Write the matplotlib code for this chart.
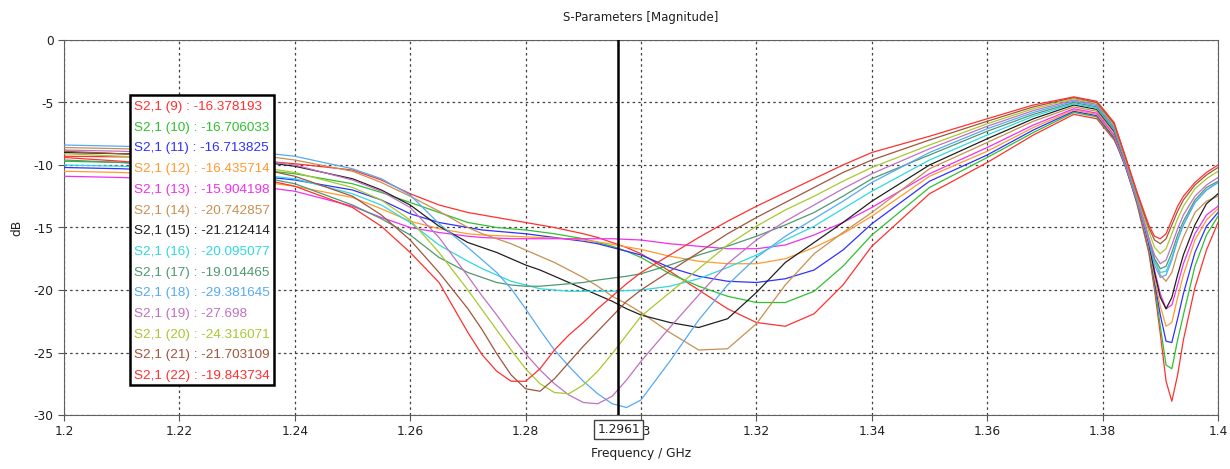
import matplotlib
matplotlib.use("Agg")
import matplotlib.pyplot as plt
from matplotlib.patches import Rectangle
from matplotlib.transforms import blended_transform_factory

# Frequenzraster (GHz), dichter in den Einbrüchen
freq = [1.200, 1.210, 1.220, 1.230, 1.240, 1.250, 1.255, 1.260, 1.265,
        1.270, 1.2725, 1.275, 1.2775, 1.280, 1.2825, 1.285, 1.2875, 1.290, 1.2925, 1.295, 1.2975, 1.300,
        1.305, 1.310, 1.315, 1.320, 1.325, 1.330, 1.335, 1.340,
        1.350, 1.360, 1.368, 1.375, 1.379, 1.382, 1.384, 1.386, 1.388,
        1.389, 1.390, 1.391, 1.392, 1.393, 1.394, 1.396, 1.398, 1.400]

# S2,1 in dB
s21_9 = [-9.3, -9.35, -9.4, -9.5, -9.9, -10.4, -11.2, -12.3, -13.2,
         -13.8, -14.0, -14.2, -14.4, -14.6, -14.8, -15.0, -15.25, -15.5, -15.8, -16.2, -16.6, -17.1,
         -18.5, -20.0, -21.5, -22.6, -22.9, -21.9, -19.6, -16.5,
         -12.3, -9.8, -7.6, -5.95, -6.3, -8.0, -9.9, -13.2, -17.0,
         -20.0, -23.5, -27.3, -28.9, -26.8, -24.0, -19.8, -16.8, -14.6]
s21_10 = [-9.7, -9.8, -10.0, -10.2, -10.7, -11.5, -12.2, -13.0, -13.8,
          -14.6, -14.8, -15.0, -15.1, -15.2, -15.35, -15.5, -15.7, -15.9, -16.2, -16.5, -16.9, -17.4,
          -18.7, -19.7, -20.5, -21.0, -21.0, -20.1, -18.1, -15.6,
          -11.8, -9.4, -7.4, -5.8, -6.15, -7.9, -10.2, -13.1, -16.8,
          -19.6, -22.9, -26.0, -26.3, -24.0, -22.0, -18.1, -15.6, -14.1]
s21_11 = [-10.2, -10.3, -10.5, -10.7, -11.2, -12.0, -12.8, -13.9, -14.6,
          -15.0, -15.2, -15.3, -15.4, -15.5, -15.65, -15.8, -15.95, -16.1, -16.3, -16.6, -16.9, -17.2,
          -18.2, -18.9, -19.3, -19.4, -19.1, -18.4, -16.8, -14.7,
          -11.3, -9.2, -7.2, -5.7, -6.05, -7.8, -10.2, -13.0, -16.6,
          -19.3, -22.0, -24.1, -24.2, -22.3, -20.3, -17.0, -14.9, -13.8]
s21_12 = [-10.5, -10.6, -10.8, -11.1, -11.7, -12.6, -13.5, -14.5, -15.1,
          -15.5, -15.6, -15.65, -15.7, -15.75, -15.8, -15.85, -15.9, -16.0, -16.15, -16.35, -16.55, -16.75,
          -17.3, -17.7, -17.9, -17.9, -17.5, -16.6, -15.5, -14.1,
          -10.9, -8.9, -7.0, -5.6, -5.95, -7.7, -10.1, -12.9, -16.5,
          -19.0, -21.3, -22.9, -22.6, -20.6, -18.8, -16.0, -14.4, -13.5]
s21_13 = [-10.9, -11.0, -11.2, -11.5, -12.1, -13.3, -14.2, -15.0, -15.4,
          -15.7, -15.8, -15.85, -15.9, -15.9, -15.9, -15.9, -15.9, -15.9, -15.9, -15.9, -15.95, -16.0,
          -16.3, -16.5, -16.7, -16.7, -16.4, -15.6, -14.6, -13.4,
          -10.7, -8.6, -6.8, -5.5, -5.85, -7.6, -10.0, -12.8, -16.3,
          -18.4, -20.3, -21.5, -21.2, -19.6, -17.9, -15.5, -14.0, -13.3]
s21_14 = [-8.6, -8.7, -8.8, -9.0, -9.6, -10.5, -11.4, -12.5, -13.7,
          -15.0, -15.5, -15.9, -16.3, -16.8, -17.3, -17.8, -18.4, -19.0, -19.7, -20.5, -21.1, -21.8,
          -23.4, -24.8, -24.7, -22.7, -19.6, -17.1, -15.4, -13.8,
          -10.3, -8.2, -6.5, -5.35, -5.7, -7.4, -9.9, -12.6, -15.9,
          -17.6, -18.8, -19.3, -18.6, -17.0, -15.8, -13.8, -12.9, -12.5]
s21_15 = [-9.0, -9.1, -9.2, -9.5, -10.1, -11.1, -12.0, -13.2, -14.9,
          -16.2, -16.6, -17.0, -17.5, -18.0, -18.4, -18.9, -19.4, -19.9, -20.4, -20.9, -21.5, -22.0,
          -22.6, -23.0, -22.3, -20.2, -17.8, -16.2, -14.6, -12.9,
          -10.0, -7.9, -6.3, -5.2, -5.55, -7.3, -9.8, -12.6, -16.2,
          -18.6, -20.6, -21.5, -20.6, -18.8, -17.2, -14.8, -13.1, -12.3]
s21_16 = [-10.0, -10.1, -10.3, -10.6, -11.1, -12.3, -13.2, -14.6, -16.4,
          -17.7, -18.3, -18.8, -19.3, -19.6, -19.9, -20.0, -20.1, -20.1, -20.1, -20.1, -20.05, -20.0,
          -19.7, -19.1, -18.2, -17.2, -16.0, -14.9, -13.5, -12.1,
          -9.6, -7.6, -6.1, -5.1, -5.45, -7.2, -9.8, -12.7, -16.0,
          -17.7, -18.6, -18.5, -17.4, -16.0, -14.8, -13.0, -12.0, -11.4]
s21_17 = [-9.6, -9.8, -10.1, -10.6, -11.5, -13.2, -14.3, -15.6, -17.4,
          -18.6, -19.0, -19.4, -19.6, -19.7, -19.7, -19.6, -19.5, -19.4, -19.2, -19.05, -18.9, -18.7,
          -18.0, -17.2, -16.5, -15.7, -14.8, -13.8, -12.5, -11.1,
          -9.2, -7.3, -5.95, -5.0, -5.35, -7.1, -9.7, -12.6, -15.9,
          -17.5, -18.3, -18.1, -17.0, -15.6, -14.5, -12.8, -11.8, -11.3]
s21_18 = [-8.4, -8.5, -8.6, -8.8, -9.3, -10.3, -11.1, -12.4, -14.7,
          -16.6, -17.6, -18.6, -19.9, -21.5, -23.2, -24.8, -26.1, -27.3, -28.3, -29.1, -29.4, -28.8,
          -25.7, -22.4, -19.6, -17.4, -15.7, -14.3, -12.9, -11.4,
          -9.0, -7.1, -5.8, -4.9, -5.25, -7.0, -9.7, -12.6, -16.1,
          -18.0, -19.0, -18.8, -17.6, -16.0, -14.8, -13.0, -12.0, -11.4]
s21_19 = [-8.8, -8.9, -9.1, -9.4, -10.0, -11.2, -12.1, -13.4, -15.8,
          -18.9, -20.5, -22.0, -23.6, -25.1, -26.4, -27.5, -28.4, -29.0, -29.1, -28.5, -27.2, -25.7,
          -23.0, -20.4, -17.9, -16.0, -14.5, -13.2, -11.9, -10.7,
          -8.7, -6.9, -5.65, -4.8, -5.15, -6.9, -9.6, -12.5, -15.8,
          -17.2, -17.9, -17.6, -16.4, -15.1, -14.0, -12.5, -11.6, -11.0]
s21_20 = [-9.1, -9.3, -9.5, -9.9, -10.6, -11.8, -12.8, -14.4, -17.0,
          -20.0, -21.6, -23.2, -24.8, -26.3, -27.5, -28.2, -28.3, -27.6, -26.5, -25.1, -23.6, -22.1,
          -20.2, -18.3, -16.4, -14.9, -13.6, -12.5, -11.3, -10.2,
          -8.4, -6.7, -5.5, -4.7, -5.05, -6.8, -9.5, -12.4, -15.3,
          -16.6, -17.1, -16.7, -15.5, -14.3, -13.3, -11.9, -11.1, -10.5]
s21_21 = [-8.9, -9.1, -9.4, -9.9, -10.9, -12.5, -14.0, -16.0, -18.6,
          -21.5, -23.2, -25.1, -26.8, -27.9, -28.1, -27.1, -25.8, -24.5, -23.3, -22.1, -20.9, -20.0,
          -18.5, -17.0, -15.5, -14.2, -13.0, -11.8, -10.6, -9.6,
          -8.0, -6.5, -5.35, -4.6, -5.0, -6.7, -9.4, -12.3, -15.0,
          -16.0, -16.3, -15.9, -14.8, -13.7, -12.8, -11.6, -10.8, -10.2]
s21_22 = [-9.4, -9.7, -10.1, -10.7, -11.7, -13.4, -14.9, -17.0, -19.4,
          -23.4, -25.2, -26.5, -27.3, -27.3, -26.3, -24.8, -23.6, -22.6, -21.5, -20.5, -19.5, -18.6,
          -17.2, -15.8, -14.5, -13.3, -12.2, -11.1, -10.0, -9.0,
          -7.7, -6.3, -5.2, -4.55, -4.9, -6.6, -9.4, -12.2, -14.8,
          -15.7, -15.9, -15.5, -14.4, -13.3, -12.5, -11.4, -10.6, -10.0]

runs = [9, 10, 11, 12, 13, 14, 15, 16, 17, 18, 19, 20, 21, 22]
series = [s21_9, s21_10, s21_11, s21_12, s21_13, s21_14, s21_15,
          s21_16, s21_17, s21_18, s21_19, s21_20, s21_21, s21_22]
colors = ['#ff3030', '#30c030', '#3030ff', '#ff9a30', '#f030f0', '#c89050', '#202020',
          '#30d8e0', '#509870', '#55aaf5', '#c070c0', '#a8c830', '#a0563c', '#ff3030']

marker_f = 1.2961
marker_vals = ['-16.378193', '-16.706033', '-16.713825', '-16.435714', '-15.904198',
               '-20.742857', '-21.212414', '-20.095077', '-19.014465', '-29.381645',
               '-27.698', '-24.316071', '-21.703109', '-19.843734']

xticks = [1.2, 1.22, 1.24, 1.26, 1.28, 1.3, 1.32, 1.34, 1.36, 1.38, 1.4]
xlabels = ['1.2', '1.22', '1.24', '1.26', '1.28', '1.3', '1.32', '1.34', '1.36', '1.38', '1.4']
yticks = [0, -5, -10, -15, -20, -25, -30]

fig = plt.figure(figsize=(12.3, 4.69), dpi=100)
ax = fig.add_axes([64 / 1230, 1 - 415 / 469, 1154 / 1230, 375 / 469])

for vals, c in zip(series, colors):
    ax.plot(freq, vals, color=c, lw=0.9, zorder=3)

ax.set_xlim(1.2, 1.4)
ax.set_ylim(-30, 0)
ax.set_xticks(xticks)
ax.set_xticklabels(xlabels)
ax.set_yticks(yticks)
ax.set_yticklabels([str(v) for v in yticks])
ax.tick_params(labelsize=8.8, length=4, color='#555555', labelcolor='#202020')
ax.grid(True, color='#404040', linestyle=(0, (2, 2.5)), linewidth=0.9)
for sp in ax.spines.values():
    sp.set_color('#606060')

ax.set_title('S-Parameters [Magnitude]', fontsize=8.5, color='#202020', pad=14)
ax.set_xlabel('Frequency / GHz', fontsize=8.8, color='#202020', labelpad=6)
ax.set_ylabel('dB', fontsize=8.8, color='#202020', labelpad=7)

# Marker-Linie
ax.axvline(marker_f, color='black', lw=1.8, zorder=5)
trans = blended_transform_factory(ax.transData, ax.transAxes)
ax.text(marker_f, -0.022, '1.2961', transform=trans, ha='center', va='top', fontsize=8.8,
        color='#202020', zorder=6,
        bbox=dict(boxstyle='square,pad=0.25', fc='white', ec='#404040', lw=1))

# Marker-Legende
ax.add_patch(Rectangle((0.0572, 0.08), 0.1248, 0.7733, transform=ax.transAxes,
                       fc='white', ec='black', lw=1.8, zorder=7))
for i, (r, v, c) in enumerate(zip(runs, marker_vals, colors)):
    ax.text(0.0607, 0.8213 - i * 0.0552, 'S2,1 (%d) : %s' % (r, v), transform=ax.transAxes,
            color=c, fontsize=9.7, family='Liberation Sans', va='center', ha='left', zorder=8)

fig.savefig('out.png', dpi=100)
